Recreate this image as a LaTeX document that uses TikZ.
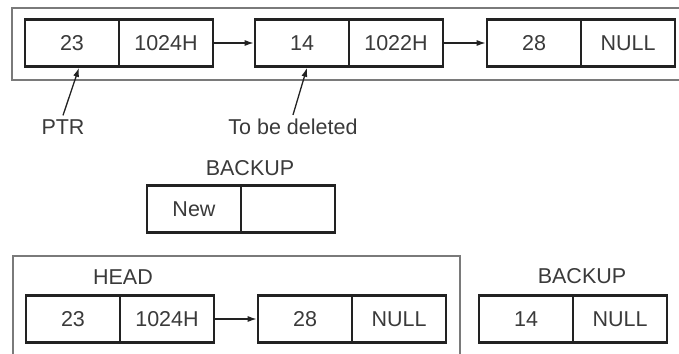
\documentclass[tikz,border=0pt]{standalone}
\usepackage{fontspec}
\setmainfont{Liberation Sans}
\usepackage{tikz}
\usetikzlibrary{arrows.meta,positioning}
\usepackage{xcolor}
\definecolor{ink}{HTML}{222222}
\definecolor{txt}{HTML}{3A3A3A}
\definecolor{frameg}{HTML}{7A7A7A}

\begin{document}
\begin{tikzpicture}[
  x=1pt,y=-1pt,
  cell/.style={draw=ink,line width=2.6pt,minimum width=94pt,minimum height=47pt,
               inner sep=0pt,text=txt,font=\fontsize{21.5}{25}\selectfont},
  lbl/.style={inner sep=1pt,text=txt,font=\fontsize{21.5}{25}\selectfont},
  frame/.style={draw=frameg,line width=2pt},
  arr/.style={-{Latex[length=9pt,width=6pt]},line width=1.3pt,draw=ink}
]
  \useasboundingbox (0,0) rectangle (679,353);
  \clip (0,0) rectangle (679,353);

  \draw[frame] (12,8) rectangle (690,80);
  \draw[frame] (13,370) -- (13,256) -- (460,256) -- (460,370);

  \node[cell] (a1) at (72,43) {23};
  \node[cell] (a2) at (166,43) {1024H};
  \node[cell] (b1) at (302,43) {14};
  \node[cell] (b2) at (396,43) {1022H};
  \node[cell] (c1) at (534,43) {28};
  \node[cell] (c2) at (628,43) {NULL};
  \draw[arr] (a2) -- (b1);
  \draw[arr] (b2) -- (c1);

  \node[lbl] (ptr) at (63,127) {PTR};
  \node[lbl] (del) at (293,127) {To be deleted};
  \draw[arr] ([yshift=3pt]ptr.north) -- ([xshift=7pt]a1.south);
  \draw[arr] ([yshift=3pt]del.north) -- ([xshift=5pt]b1.south);

  \node[lbl] (bk1) at (250,168) {BACKUP};
  \node[cell] (n1) at (194,209) {New};
  \node[cell] (n2) at (288,209) {};

  \node[lbl] (head) at (123,277) {HEAD};
  \node[cell] (h1) at (73,319) {23};
  \node[cell] (h2) at (167,319) {1024H};
  \node[cell] (h3) at (305,319) {28};
  \node[cell] (h4) at (399,319) {NULL};
  \draw[arr] (h2) -- (h3);

  \node[lbl] (bk2) at (582,276) {BACKUP};
  \node[cell] (k1) at (526,319) {14};
  \node[cell] (k2) at (620,319) {NULL};
\end{tikzpicture}
\end{document}
